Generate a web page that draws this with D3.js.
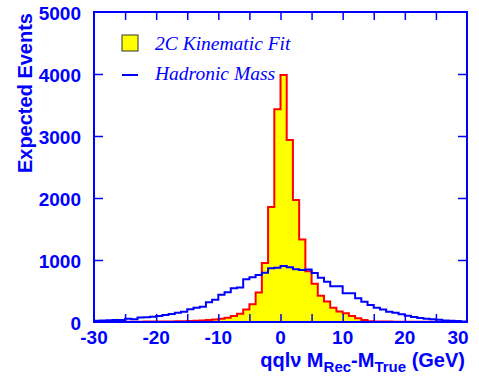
<!DOCTYPE html>
<html>
<head>
<meta charset="utf-8">
<script src="https://cdn.jsdelivr.net/npm/d3@7"></script>
<style>
  body { margin: 0; background: #fff; }
  svg { display: block; }
  .lab { font-family: "Liberation Sans", Arial, sans-serif; font-weight: bold; fill: #0000ff; }
  .leg { font-family: "Liberation Serif", "Times New Roman", serif; font-style: italic; fill: #0000ff; }
</style>
</head>
<body>
<div id="chart"></div>
<script>
// bin lower edges, 1 GeV wide, -30 .. 29
const binEdges = d3.range(-30, 30);

// 2C kinematic fit (yellow, red outline)
const kinFit = [
  3, 3, 4, 4, 5, 5, 6, 6, 7, 8, 8, 9, 10, 11, 13,
  16, 20, 26, 34, 42, 52, 70, 95, 135, 200, 285, 475, 950, 1855, 3430,
  3985, 2935, 1968, 1330, 820, 615, 425, 330, 230, 170, 140, 97, 60, 34, 12,
  9, 8, 7, 6, 6, 5, 5, 4, 4, 3, 3, 3, 2, 2, 2
];

// hadronic mass (blue line)
const hadMass = [
  22, 24, 30, 32, 32, 52, 45, 72, 75, 86, 97, 113, 129, 150, 167,
  204, 231, 247, 320, 360, 440, 480, 545, 555, 688, 721, 758, 795, 866, 876,
  903, 882, 850, 839, 845, 790, 713, 650, 575, 575, 463, 463, 382, 328, 274,
  228, 200, 166, 148, 126, 100, 80, 65, 54, 45, 37, 26, 21, 16, 10
];

const xTicks = [-30, -20, -10, 0, 10, 20, 30];
const yTicks = [0, 1000, 2000, 3000, 4000, 5000];
const minorX = d3.range(-25, 30, 5);

const legendItems = ["2C Kinematic Fit", "Hadronic Mass"];

const W = 479, H = 376;
const margin = {top: 12, right: 12, bottom: 54, left: 94};
const blue = "#0000ff";

const svg = d3.select("#chart").append("svg")
    .attr("width", W)
    .attr("height", H);

const x = d3.scaleLinear().domain([-30, 30]).range([margin.left, W - margin.right]);
const y = d3.scaleLinear().domain([0, 5000]).range([H - margin.bottom, margin.top]);

function steps(vals) {
    const pts = binEdges.map((e, i) => ({e: e, v: vals[i]}));
    pts.push({e: 30, v: vals[vals.length - 1]});
    return pts;
}

const area = d3.area()
    .curve(d3.curveStepAfter)
    .x(d => x(d.e))
    .y0(y(0))
    .y1(d => y(d.v));

const line = d3.line()
    .curve(d3.curveStepAfter)
    .x(d => x(d.e))
    .y(d => y(d.v));

const kinPts = steps(kinFit);
svg.append("path")
    .attr("d", area(kinPts))
    .attr("fill", "#ffff00");
svg.append("path")
    .attr("d", line(kinPts))
    .attr("fill", "none")
    .attr("stroke", "#ff0000")
    .attr("stroke-width", 2);

svg.append("path")
    .attr("d", line(steps(hadMass)))
    .attr("fill", "none")
    .attr("stroke", blue)
    .attr("stroke-width", 2);

// ticks (inward, all four sides)
const tickLen = 8;
const bottomAxis = svg.append("g")
    .attr("transform", `translate(0,${y(0)})`)
    .call(d3.axisTop(x).tickValues(minorX).tickSize(tickLen).tickFormat(""));
const topAxis = svg.append("g")
    .attr("transform", `translate(0,${y(5000)})`)
    .call(d3.axisBottom(x).tickValues(minorX).tickSize(tickLen).tickFormat(""));
const leftAxis = svg.append("g")
    .attr("transform", `translate(${x(-30)},0)`)
    .call(d3.axisRight(y).tickValues(yTicks.slice(1, -1)).tickSize(tickLen + 1).tickFormat(""));
const rightAxis = svg.append("g")
    .attr("transform", `translate(${x(30)},0)`)
    .call(d3.axisLeft(y).tickValues(yTicks.slice(1, -1)).tickSize(tickLen + 1).tickFormat(""));
[bottomAxis, topAxis, leftAxis, rightAxis].forEach(g => {
    g.select(".domain").remove();
    g.selectAll("line").attr("stroke", blue).attr("stroke-width", 1.5);
});

// frame
svg.append("rect")
    .attr("x", x(-30))
    .attr("y", y(5000))
    .attr("width", x(30) - x(-30))
    .attr("height", y(0) - y(5000))
    .attr("fill", "none")
    .attr("stroke", blue)
    .attr("stroke-width", 2);

// tick labels
svg.selectAll(".ylab")
    .data(yTicks)
    .enter().append("text")
    .attr("class", "lab")
    .attr("x", 81)
    .attr("y", d => y(d) + 8)
    .attr("text-anchor", "end")
    .style("font-size", "19px")
    .text(d => d);

svg.selectAll(".xlab")
    .data(xTicks)
    .enter().append("text")
    .attr("class", "lab")
    .attr("x", d => x(d) + (d === 30 ? -9 : 0))
    .attr("y", 344)
    .attr("text-anchor", "middle")
    .style("font-size", "19px")
    .text(d => d);

// axis titles
svg.append("text")
    .attr("class", "lab")
    .attr("transform", "translate(32,13) rotate(-90)")
    .attr("text-anchor", "end")
    .style("font-size", "20px")
    .text("Expected Events");

const xt = svg.append("text")
    .attr("class", "lab")
    .attr("x", 465)
    .attr("y", 367)
    .attr("text-anchor", "end")
    .style("font-size", "20px");
xt.append("tspan").text("qql\u03BD M");
xt.append("tspan").attr("dy", 5).style("font-size", "15px").text("Rec");
xt.append("tspan").attr("dy", -5).text("-M");
xt.append("tspan").attr("dy", 5).style("font-size", "15px").text("True");
xt.append("tspan").attr("dy", -5).text(" (GeV)");

// legend
const leg = svg.append("g");
leg.append("rect")
    .attr("x", 122)
    .attr("y", 35)
    .attr("width", 16)
    .attr("height", 16)
    .attr("fill", "#ffff00")
    .attr("stroke", "#333")
    .attr("stroke-width", 1);
leg.append("line")
    .attr("x1", 122).attr("x2", 138)
    .attr("y1", 75).attr("y2", 75)
    .attr("stroke", blue)
    .attr("stroke-width", 2);
leg.selectAll("text")
    .data(legendItems)
    .enter().append("text")
    .attr("class", "leg")
    .attr("x", 155)
    .attr("y", (d, i) => 50 + i * 30)
    .style("font-size", "19.5px")
    .text(d => d);
</script>
</body>
</html>
